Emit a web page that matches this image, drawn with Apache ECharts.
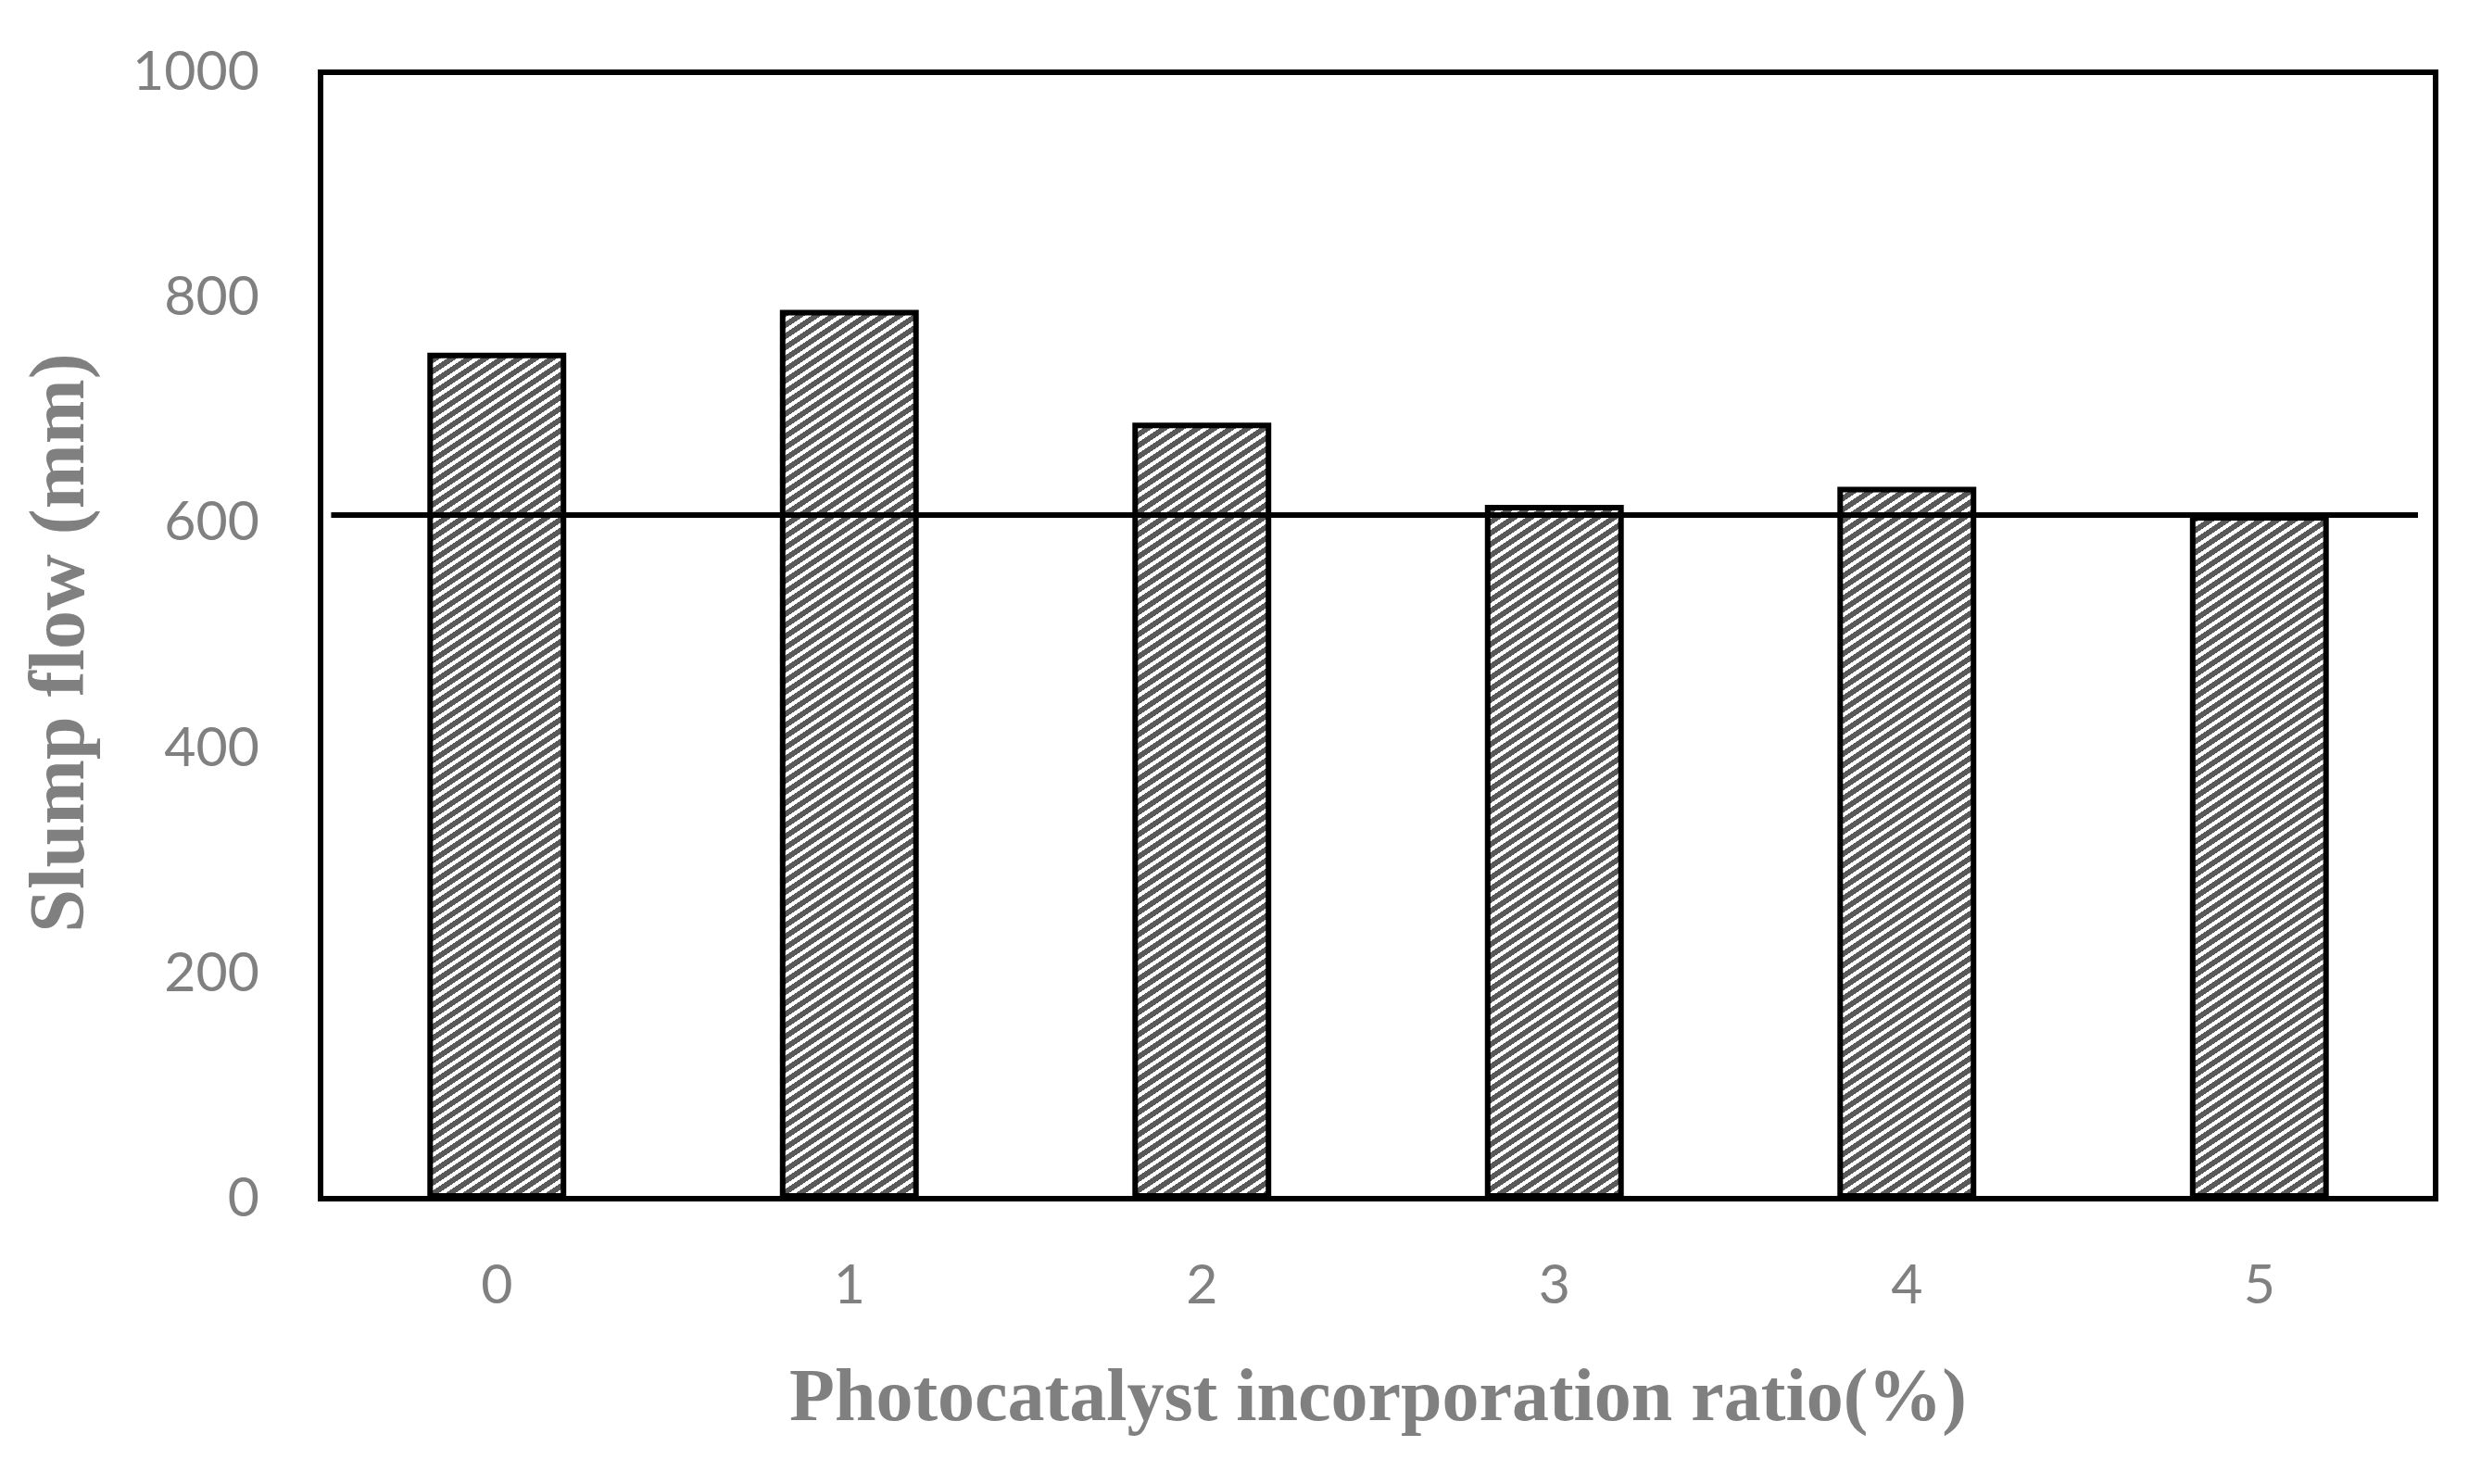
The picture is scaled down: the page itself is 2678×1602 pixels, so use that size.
<!DOCTYPE html>
<html>
<head>
<meta charset="utf-8">
<script src="https://cdn.jsdelivr.net/npm/echarts@6/dist/echarts.min.js"></script>
<style>
  html, body { margin: 0; padding: 0; background: #ffffff; }
  #chart { width: 2678px; height: 1602px; }
</style>
</head>
<body>
<div id="chart"></div>
<script>
const categories = ["0", "1", "2", "3", "4", "5"];
const slumpFlow = [751, 789, 689, 616, 632, 607];

// target slump flow line, drawn across the bars
const refLineX = [-0.47, 5.45];
const refLineValue = 607;

const yTicks = { min: 0, max: 1000, interval: 200 };

const TICK_COLOR = "#808080";
const TITLE_FONT = "'Liberation Serif', 'DejaVu Serif', serif";

function createHatch() {
  // upward diagonal stripes, dark gray on white, pixel stepped
  const w = 18;
  const h = 12;
  const tile = document.createElement("canvas");
  tile.width = w;
  tile.height = h;
  const ctx = tile.getContext("2d");
  const img = ctx.createImageData(w, h);
  for (let y = 0; y < h; y++) {
    for (let x = 0; x < w; x++) {
      const t = (((y + (x * 2) / 3) % h) + h) % h;
      const v = t < 7 ? 0x59 : 0xff;
      const i = (y * w + x) * 4;
      img.data[i] = v;
      img.data[i + 1] = v;
      img.data[i + 2] = v;
      img.data[i + 3] = 255;
    }
  }
  ctx.putImageData(img, 0, 0);
  return tile;
}

function createOption() {
  return {
    backgroundColor: "#ffffff",
    animation: false,
    grid: {
      left: 346,
      right: 49,
      top: 78,
      bottom: 308,
      show: true,
      borderColor: "#000000",
      borderWidth: 6,
      backgroundColor: "transparent"
    },
    xAxis: [
      {
        type: "category",
        data: categories,
        name: "Photocatalyst incorporation ratio(%)",
        nameLocation: "middle",
        nameGap: 178,
        nameTextStyle: {
          color: TICK_COLOR,
          fontFamily: TITLE_FONT,
          fontWeight: "bold",
          fontSize: 80
        },
        axisLine: { show: true, lineStyle: { color: "#000000", width: 6 } },
        axisTick: { show: false },
        axisLabel: {
          color: TICK_COLOR,
          fontFamily: "Lato",
          fontSize: 59,
          margin: 64
        },
        splitLine: { show: false }
      },
      {
        type: "value",
        min: -0.5,
        max: 5.5,
        show: false
      }
    ],
    yAxis: {
      type: "value",
      min: yTicks.min,
      max: yTicks.max,
      interval: yTicks.interval,
      name: "Slump flow (mm)",
      nameLocation: "middle",
      nameGap: 236,
      nameTextStyle: {
        color: TICK_COLOR,
        fontFamily: TITLE_FONT,
        fontWeight: "bold",
        fontSize: 84,
        padding: [0, 16, 0, 0]
      },
      axisLine: { show: true, onZero: false, lineStyle: { color: "#000000", width: 6 } },
      axisTick: { show: false },
      axisLabel: {
        color: TICK_COLOR,
        fontFamily: "Lato",
        fontSize: 59,
        margin: 66,
        formatter: (v) => String(v)
      },
      splitLine: { show: false }
    },
    series: [
      {
        name: "Slump flow",
        type: "bar",
        xAxisIndex: 0,
        data: slumpFlow,
        barWidth: "39.4%",
        itemStyle: {
          color: { image: createHatch(), repeat: "repeat" },
          borderColor: "#000000",
          borderWidth: 6
        },
        z: 2
      },
      {
        name: "Reference",
        type: "line",
        xAxisIndex: 1,
        data: refLineX.map((x) => [x, refLineValue]),
        symbol: "none",
        lineStyle: { color: "#000000", width: 6 },
        z: 5
      }
    ]
  };
}

const chart = echarts.init(document.querySelector("#chart"));
chart.setOption(createOption());
</script>
</body>
</html>
